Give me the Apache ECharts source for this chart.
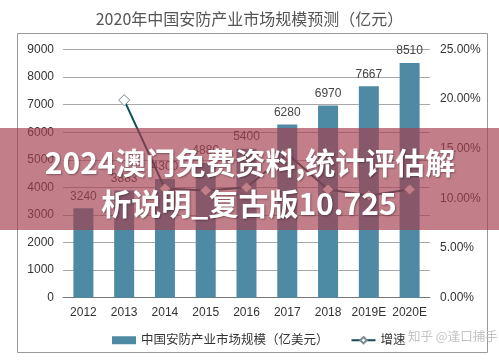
<!DOCTYPE html>
<html>
<head>
<meta charset="utf-8">
<script src="https://cdn.jsdelivr.net/npm/echarts@6/dist/echarts.min.js"></script>
<style>html,body{margin:0;padding:0;background:#fff}#c{width:499px;height:361px}</style>
</head>
<body>
<div id="c"></div>
<script>
var categories = ['2012','2013','2014','2015','2016','2017','2018','2019E','2020E'];
var marketSize = [3240, 3883, 4300, 4880, 5400, 6280, 6970, 7667, 8510];
var growthRate = [null, 0.199, 0.110, 0.108, 0.111, 0.145, 0.109, 0.103, 0.109];
var leftTicks = [0, 9000, 1000];
var rightTicks = [0, 0.25, 0.05];
var titleText = '2020年中国安防产业市场规模预测（亿元）';
var seriesNames = ['中国安防产业市场规模（亿美元）', '增速'];
var bannerLines = ['2024澳门免费资料,统计评估解', '析说明_复古版10.725'];
var watermark = '知乎 @逢口捕手';

var font = '"Liberation Sans", Arial, "Noto Sans CJK SC", sans-serif';
var chart = echarts.init(document.getElementById('c'), null, {renderer: 'canvas'});
chart.setOption({
  animation: false,
  backgroundColor: '#fff',
  textStyle: {fontFamily: font},
  title: {
    text: titleText, left: 'center', top: 6,
    textStyle: {fontSize: 16, fontWeight: 'normal', color: '#555', fontFamily: '"Noto Sans CJK SC", sans-serif'}
  },
  grid: {left: 63, right: 69, top: 49.5, bottom: 63.3},
  legend: {
    left: 107, top: 329, itemWidth: 24, itemHeight: 8, itemGap: 22,
    textStyle: {fontSize: 12.5, color: '#333', fontFamily: font},
    data: [
      {name: seriesNames[0], icon: 'rect'},
      {name: seriesNames[1]}
    ]
  },
  xAxis: {
    type: 'category', data: categories,
    axisLine: {lineStyle: {color: '#777'}},
    axisTick: {show: false},
    axisLabel: {color: '#333', fontSize: 12, margin: 9, interval: 0}
  },
  yAxis: [
    {
      type: 'value', min: leftTicks[0], max: leftTicks[1], interval: leftTicks[2],
      axisLine: {show: false}, axisTick: {show: false},
      axisLabel: {color: '#333', fontSize: 12, margin: 9, formatter: function (v) { return String(v); }},
      splitLine: {lineStyle: {color: '#a8a8a8'}}
    },
    {
      type: 'value', min: rightTicks[0], max: rightTicks[1], interval: rightTicks[2],
      axisLine: {show: false}, axisTick: {show: false},
      axisLabel: {color: '#333', fontSize: 12, margin: 10,
        formatter: function (v) { return (v * 100).toFixed(2) + '%'; }},
      splitLine: {show: false}
    }
  ],
  series: [
    {
      name: seriesNames[0], type: 'bar', data: marketSize, barWidth: 20,
      itemStyle: {color: '#4e8aa3'},
      label: {show: true, position: 'top', distance: 6, color: '#444', fontSize: 12}
    },
    {
      name: seriesNames[1], type: 'line', yAxisIndex: 1, data: growthRate,
      symbol: 'diamond', symbolSize: 11, connectNulls: false,
      lineStyle: {color: '#0f4c58', width: 2},
      itemStyle: {color: '#fff', borderColor: '#7a8a90', borderWidth: 1}
    }
  ],
  graphic: [
    {type: 'rect', z: 0, silent: true, shape: {x: 17.5, y: 33.5, width: 470, height: 319},
      style: {fill: 'none', stroke: '#999', lineWidth: 1}},
    {type: 'text', z: 50, left: 408, top: 330,
      style: {text: watermark, fill: '#c4c4c4', font: '12.5px "Noto Sans CJK SC", sans-serif'}},
    {type: 'rect', z: 100, silent: true, shape: {x: 0, y: 128, width: 499, height: 102},
      style: {fill: 'rgba(163,63,78,0.667)'}},
    {type: 'text', z: 101, x: 250, y: 163,
      style: {text: bannerLines[0], fill: '#fff', textAlign: 'center', textVerticalAlign: 'middle',
        font: 'bold 30px "Noto Sans CJK SC", sans-serif',
        textShadowColor: 'rgba(0,0,0,0.35)', textShadowBlur: 2, textShadowOffsetX: 1, textShadowOffsetY: 1}},
    {type: 'text', z: 101, x: 249, y: 204,
      style: {text: bannerLines[1], fill: '#fff', textAlign: 'center', textVerticalAlign: 'middle',
        font: 'bold 30px "Noto Sans CJK SC", sans-serif',
        textShadowColor: 'rgba(0,0,0,0.35)', textShadowBlur: 2, textShadowOffsetX: 1, textShadowOffsetY: 1}}
  ]
});
</script>
</body>
</html>
